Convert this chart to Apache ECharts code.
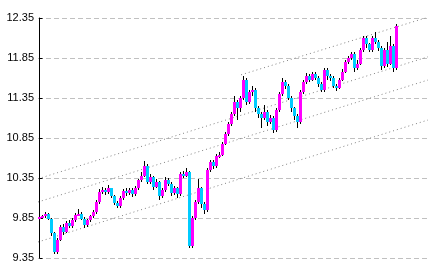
<!DOCTYPE html>
<html>
<head>
<meta charset="utf-8">
<script src="https://cdn.jsdelivr.net/npm/echarts@6/dist/echarts.min.js"></script>
<style>html,body{margin:0;padding:0;background:#fff;}#c{width:433px;height:272px;}</style>
</head>
<body>
<div id="c"></div>
<script>
const yTicks = [9.35, 9.85, 10.35, 10.85, 11.35, 11.85, 12.35];
const opens = [9.84,9.86,9.87,9.90,9.84,9.66,9.42,9.58,9.74,9.68,9.79,9.75,9.82,9.89,9.90,9.84,9.76,9.82,9.87,9.92,
10.05,10.18,10.20,10.17,10.22,10.12,10.04,10.00,10.10,10.19,10.16,10.20,10.15,10.22,10.32,10.38,10.50,10.30,10.36,10.24,
10.30,10.12,10.20,10.33,10.28,10.16,10.22,10.15,10.40,10.38,10.42,9.50,9.85,10.05,10.22,10.02,9.95,10.45,10.55,10.50,
10.62,10.64,10.78,10.90,11.02,11.15,11.30,11.22,11.35,11.58,11.30,11.42,11.45,11.22,11.15,11.10,11.18,11.05,11.10,10.95,
11.20,11.40,11.55,11.50,11.35,11.22,11.12,11.05,11.42,11.55,11.62,11.58,11.65,11.60,11.52,11.45,11.70,11.62,11.60,11.50,
11.48,11.58,11.68,11.80,11.85,11.90,11.72,11.78,11.95,12.10,12.02,11.95,12.10,12.05,11.98,11.75,11.95,11.78,12.00,11.72];
const closes = [9.86,9.87,9.90,9.84,9.66,9.42,9.58,9.74,9.68,9.79,9.75,9.82,9.89,9.90,9.84,9.76,9.82,9.87,9.92,10.05,
10.18,10.20,10.17,10.22,10.12,10.04,10.00,10.10,10.19,10.16,10.20,10.15,10.22,10.32,10.38,10.50,10.30,10.36,10.24,10.30,
10.12,10.20,10.33,10.28,10.16,10.22,10.15,10.40,10.38,10.42,9.50,9.85,10.05,10.22,10.02,9.95,10.45,10.55,10.50,10.62,
10.64,10.78,10.90,11.02,11.15,11.30,11.22,11.35,11.58,11.30,11.42,11.45,11.22,11.15,11.10,11.18,11.05,11.10,10.95,11.20,
11.40,11.55,11.50,11.35,11.22,11.12,11.05,11.42,11.55,11.62,11.58,11.65,11.60,11.52,11.45,11.70,11.62,11.60,11.50,11.48,
11.58,11.68,11.80,11.85,11.90,11.72,11.78,11.95,12.10,12.02,11.95,12.10,12.05,11.98,11.75,11.95,11.78,12.00,11.72,12.25];
const lows = [9.82,9.84,9.85,9.82,9.63,9.40,9.40,9.56,9.64,9.66,9.72,9.73,9.80,9.87,9.82,9.73,9.74,9.80,9.85,9.90,
10.03,10.15,10.14,10.15,10.10,10.01,9.97,9.98,10.08,10.13,10.14,10.11,10.13,10.20,10.30,10.36,10.27,10.28,10.20,10.22,
10.08,10.10,10.18,10.25,10.12,10.14,10.10,10.13,10.35,10.36,9.47,9.48,9.82,10.02,9.98,9.90,9.92,10.42,10.46,10.48,
10.60,10.62,10.76,10.88,11.00,11.12,11.08,11.18,11.32,11.26,11.27,11.38,11.18,11.10,10.98,11.07,11.00,11.02,10.91,10.93,
11.18,11.38,11.46,11.32,11.18,11.08,10.98,11.02,11.40,11.53,11.55,11.56,11.57,11.49,11.42,11.43,11.58,11.56,11.47,11.44,
11.46,11.56,11.66,11.77,11.83,11.68,11.70,11.76,11.93,11.98,11.92,11.93,12.02,11.94,11.70,11.72,11.74,11.76,11.68,11.70];
const highs = [9.88,9.89,9.92,9.91,9.85,9.68,9.60,9.76,9.77,9.81,9.82,9.85,9.91,9.96,9.92,9.86,9.84,9.89,9.95,10.07,
10.21,10.24,10.22,10.26,10.23,10.14,10.06,10.12,10.21,10.22,10.23,10.22,10.25,10.34,10.42,10.56,10.52,10.40,10.38,10.34,
10.31,10.23,10.36,10.35,10.30,10.25,10.24,10.43,10.44,10.47,10.44,9.88,10.08,10.34,10.24,10.05,10.48,10.58,10.58,10.65,
10.68,10.80,10.93,11.05,11.18,11.38,11.33,11.38,11.62,11.60,11.45,11.50,11.47,11.25,11.18,11.26,11.20,11.14,11.12,11.23,
11.43,11.60,11.58,11.52,11.37,11.24,11.15,11.45,11.58,11.66,11.65,11.68,11.67,11.62,11.55,11.73,11.72,11.65,11.62,11.53,
11.60,11.71,11.83,11.88,11.93,11.92,11.82,11.98,12.13,12.12,12.04,12.13,12.17,12.08,12.00,11.98,12.05,12.12,12.02,12.27];
const channelTop = [[67.2, 11.64], [129.5, 12.36]];
const channelUpper = [[-0.5, 10.34], [129.5, 11.865]];
const channelMiddle = [[-0.5, 10.05], [129.5, 11.575]];
const channelLower = [[-0.5, 9.55], [129.5, 11.075]];
const slotCount = 130;

const chart = echarts.init(document.getElementById('c'), null, {renderer: 'canvas'});
const dotted = {color: '#808080', width: 1, type: [1, 3]};
function chan(d) {
  return {type: 'line', data: d, symbol: 'none', silent: true, lineStyle: dotted, z: 1, animation: false};
}
chart.setOption({
  animation: false,
  grid: {left: 38, right: 5, top: 18, bottom: 14},
  xAxis: {type: 'value', min: -0.5, max: slotCount - 0.5, show: false},
  yAxis: {
    type: 'value', min: yTicks[0], max: yTicks[yTicks.length - 1], interval: 0.5,
    axisLine: {show: true, lineStyle: {color: '#000', width: 1}},
    axisTick: {show: true, inside: true, length: 3, lineStyle: {color: '#000'}},
    axisLabel: {formatter: v => v.toFixed(2), color: '#000', fontSize: 11, margin: 4, fontFamily: 'Liberation Sans, Arial, sans-serif'},
    splitLine: {show: true, lineStyle: {color: '#c0c0c0', type: [5, 3], width: 1}}
  },
  series: [
    chan(channelTop), chan(channelUpper), chan(channelMiddle), chan(channelLower),
    {
      type: 'custom', z: 3,
      data: closes.map((c, i) => [i, opens[i], c, lows[i], highs[i]]),
      renderItem: function (params, api) {
        const i = api.value(0), o = api.value(1), c = api.value(2), l = api.value(3), h = api.value(4);
        const x = Math.floor(api.coord([i, o])[0]);
        const yo = Math.round(api.coord([i, o])[1]), yc = Math.round(api.coord([i, c])[1]);
        const yl = Math.round(api.coord([i, l])[1]), yh = Math.round(api.coord([i, h])[1]);
        const top = Math.min(yo, yc), bh = Math.max(Math.abs(yc - yo), 2);
        return {type: 'group', children: [
          {type: 'rect', shape: {x: x, y: yh, width: 1, height: Math.max(yl - yh, 1)}, style: {fill: '#000'}},
          {type: 'rect', shape: {x: x - 1, y: top, width: 3, height: bh}, style: {fill: c >= o ? '#ff00ff' : '#00ccff'}}
        ]};
      }
    }
  ]
});
</script>
</body>
</html>
